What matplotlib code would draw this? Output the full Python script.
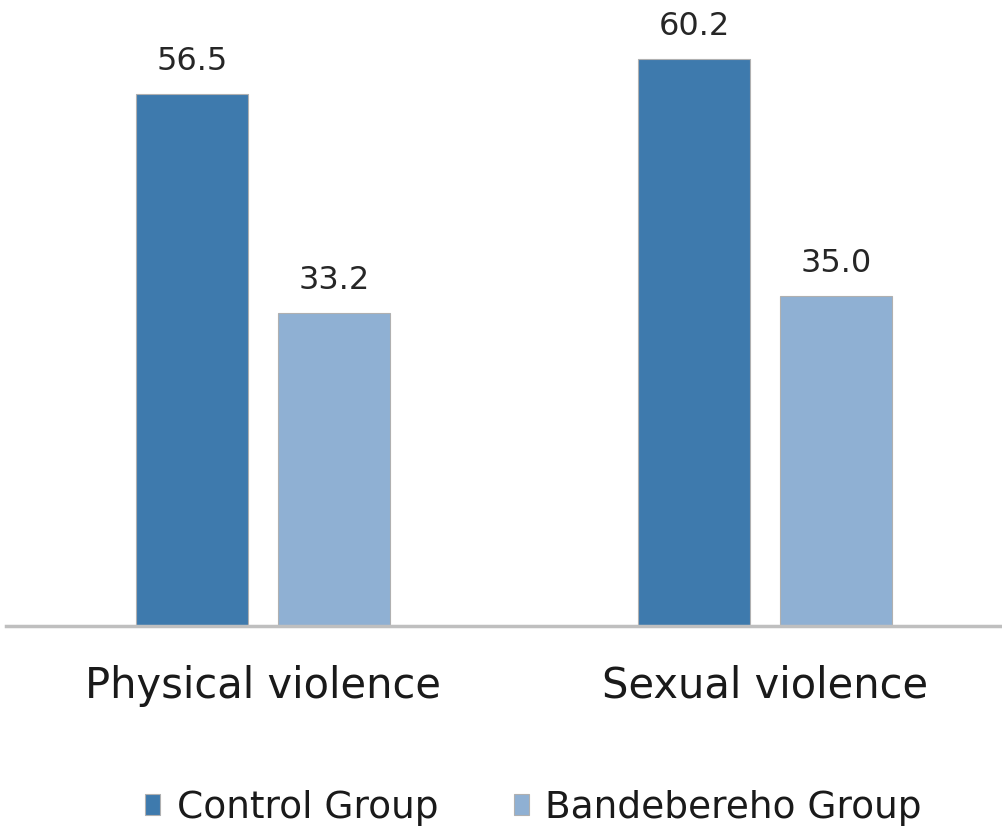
import matplotlib
matplotlib.use("Agg")
import matplotlib.pyplot as plt
import numpy as np

# 数据
categories = ["Physical violence", "Sexual violence"]
control = [56.5, 60.2]
bandebereho = [33.2, 35.0]
series_names = ["Control Group", "Bandebereho Group"]

fig = plt.figure(figsize=(10.03, 8.3), dpi=100)
ax = fig.add_axes([6 / 1003, 1 - 626 / 830, 1 - 6 / 1003, 622 / 830])

x = np.arange(len(categories))
w = 0.223
off = 0.1414
b1 = ax.bar(x - off, control, w, color="#3e7aad", edgecolor="#b0b0b0", linewidth=0.8,
            label=series_names[0])
b2 = ax.bar(x + off, bandebereho, w, color="#8fb0d3", edgecolor="#b0b0b0", linewidth=0.8,
            label=series_names[1])

for bars in (b1, b2):
    ax.bar_label(bars, fmt="%.1f", padding=12, fontsize=23, color="#262626")

ax.set_xlim(-0.512, 1.474)
ax.set_ylim(0, 66)
ax.set_yticks([])
ax.set_xticks(x)
ax.set_xticklabels(categories, fontsize=30, color="#1a1a1a")
ax.tick_params(axis="x", length=0, pad=28)
for s in ["top", "left", "right"]:
    ax.spines[s].set_visible(False)
ax.spines["bottom"].set_color("#bfbfbf")
ax.spines["bottom"].set_linewidth(2.5)

fig.legend(loc="center", bbox_to_anchor=(0.532, 0.027), ncol=2, frameon=False,
           fontsize=27, handlelength=0.4, handleheight=0.5, handletextpad=0.45,
           columnspacing=2.0, labelcolor="#1a1a1a")

fig.savefig("out.png", dpi=100, facecolor="white")
